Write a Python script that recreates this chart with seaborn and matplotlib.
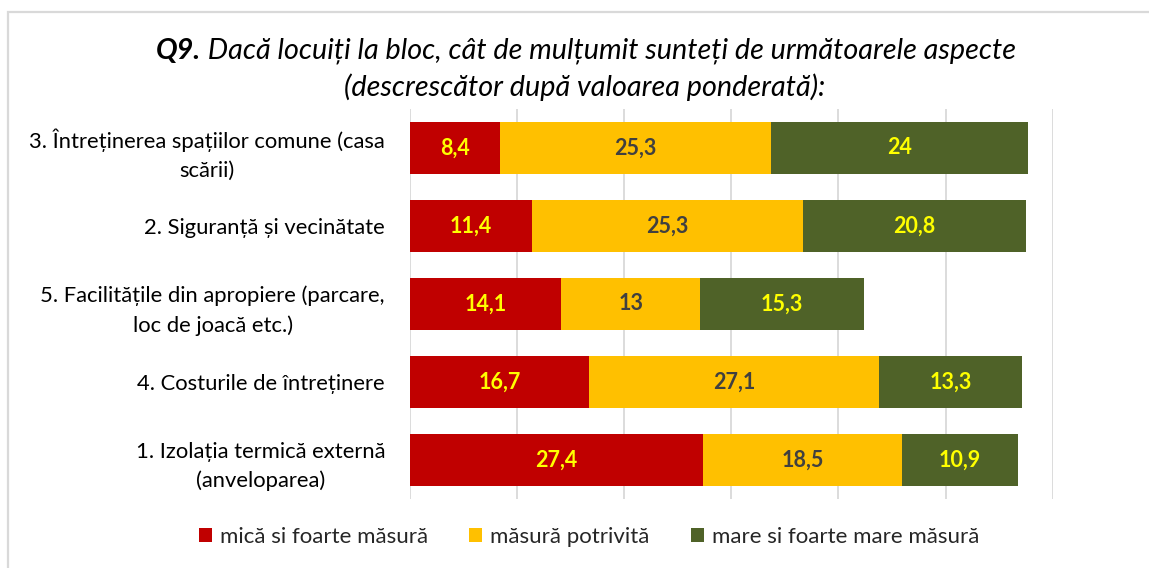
import matplotlib
matplotlib.use("Agg")
import matplotlib.pyplot as plt
import seaborn as sns
import numpy as np
import pandas as pd
from matplotlib.patches import Patch, Rectangle

categories = [
    "3. Întreținerea spațiilor comune (casa\nscării)",
    "2. Siguranță și vecinătate",
    "5. Facilitățile din apropiere (parcare,\nloc de joacă etc.)",
    "4. Costurile de întreținere",
    "1. Izolația termică externă\n(anveloparea)",
]
series_names = ["mică si foarte măsură", "măsură potrivită", "mare si foarte mare măsură"]
low = [8.4, 11.4, 14.1, 16.7, 27.4]
mid = [25.3, 25.3, 13.0, 27.1, 18.5]
high = [24.0, 20.8, 15.3, 13.3, 10.9]
label_low = ["8,4", "11,4", "14,1", "16,7", "27,4"]
label_mid = ["25,3", "25,3", "13", "27,1", "18,5"]
label_high = ["24", "20,8", "15,3", "13,3", "10,9"]

colors = ["#C00000", "#FFC000", "#4F6228"]
text_colors = ["#FFFF00", "#404040", "#FFFF00"]

sns.set_theme(style="white")
FONT = ["Lato", "DejaVu Sans"]
plt.rcParams["font.family"] = FONT

W, H = 1149, 568
fig = plt.figure(figsize=(W / 100, H / 100), dpi=100)
ax = fig.add_axes([410 / W, 1 - 499 / H, 642.6 / W, 390 / H])

df = pd.DataFrame({"cat": categories, "low": low, "mid": mid, "high": high})
df["c1"] = df["low"]
df["c2"] = df["low"] + df["mid"]
df["c3"] = df["c2"] + df["high"]

for col, color in zip(["c3", "c2", "c1"], colors[::-1]):
    sns.barplot(data=df, x=col, y="cat", orient="h", color=color,
                width=0.667, saturation=1, ax=ax, linewidth=0)

ax.set_xlim(0, 60)
ax.set_xticks(np.arange(0, 61, 10))
ax.set_xticklabels([])
ax.grid(axis="x", color="#D9D9D9", linewidth=1.3)
ax.set_axisbelow(True)
for s in ax.spines.values():
    s.set_visible(False)
ax.set_xlabel("")
ax.set_ylabel("")
ax.tick_params(axis="y", length=0, pad=18)
ax.tick_params(axis="x", length=0)
for t in ax.get_yticklabels():
    t.set_fontsize(15.8)
    t.set_multialignment("center")
    t.set_color("#000000")
    t.set_linespacing(1.55)

starts = [np.zeros(5), np.array(low), np.array(low) + np.array(mid)]
vals = [low, mid, high]
labs = [label_low, label_mid, label_high]
for k in range(3):
    for i in range(5):
        ax.text(starts[k][i] + vals[k][i] / 2, i, labs[k][i], ha="center", va="center",
                fontsize=15.5, fontweight="bold", color=text_colors[k])

# Title with bold "Q9."
TS = 20.7
t1 = fig.text(0, 0, "Q9.", fontsize=TS, fontweight="bold", style="italic",
              color="#000000", va="baseline")
t2 = fig.text(0, 0, " Dacă locuiți la bloc, cât de mulțumit sunteți de următoarele aspecte",
              fontsize=TS, style="italic", color="#000000", va="baseline")
fig.canvas.draw()
r = fig.canvas.get_renderer()
w1 = t1.get_window_extent(r).width
w2 = t2.get_window_extent(r).width
cx = 586
x0 = cx - (w1 + w2) / 2
yb = 1 - 59 / H
t1.set_position((x0 / W, yb))
t2.set_position(((x0 + w1) / W, yb))
fig.text(585 / W, 1 - 96 / H, "(descrescător după valoarea ponderată):", fontsize=TS,
         style="italic", color="#000000", ha="center", va="baseline")

handles = [Patch(facecolor=c, edgecolor="none", label=n) for c, n in zip(colors, series_names)]
fig.legend(handles=handles, loc="center", bbox_to_anchor=(589 / W, 1 - 537 / H), ncol=3,
           frameon=False, fontsize=16, handlelength=0.6, handleheight=0.6,
           handletextpad=0.35, columnspacing=1.85)

fig.patches.append(Rectangle((8 / W, -0.5), 2, 0.5 + (1 - 12 / H), transform=fig.transFigure,
                             fill=False, edgecolor="#D9D9D9", linewidth=1.6))

fig.savefig("out.png", dpi=100)
